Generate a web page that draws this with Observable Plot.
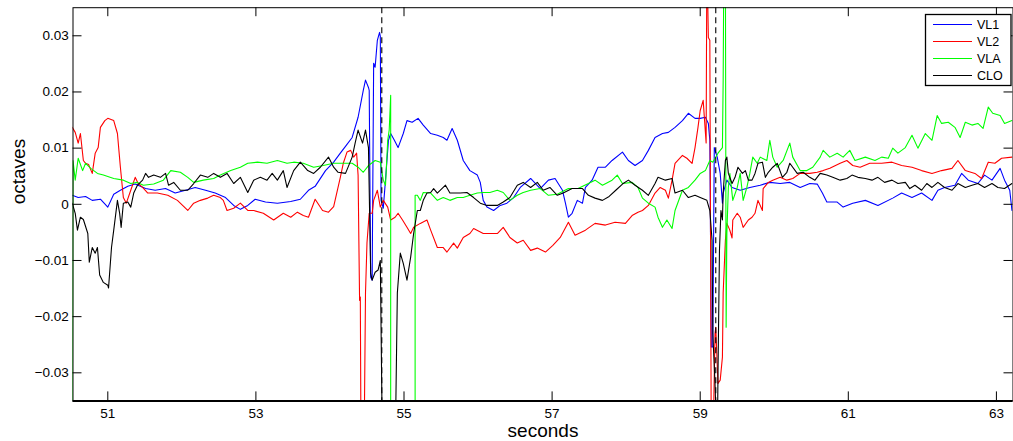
<!DOCTYPE html>
<html><head><meta charset="utf-8">
<script src="https://cdn.jsdelivr.net/npm/d3@7"></script>
<script src="https://cdn.jsdelivr.net/npm/@observablehq/plot@0.6"></script>
<style>
html,body{margin:0;padding:0;background:#fff;}
#chart{width:1013px;height:441px;}
</style></head><body><div id="chart"></div>
<script>
const seriesNames = ["VL1", "VL2", "VLA", "CLO"];
const seriesColors = ["#0000ff", "#ff0000", "#00ff00", "#000000"];
const xTicks = [51, 53, 55, 57, 59, 61, 63];
const yTicks = [-0.03, -0.02, -0.01, 0, 0.01, 0.02, 0.03];
const xDomain = [50.53, 63.224];
const yDomain = [-0.035, 0.035];
const eventTimes = [54.70, 59.21];

// [seconds, octaves]
const vl1 = [[50.52,0.0016],[50.60,0.0012],[50.70,0.0014],[50.79,0.0007],[50.90,0.0009],[51.00,-0.0005],[51.08,0.0018],[51.17,0.0025],[51.27,0.0032],[51.37,0.0036],[51.51,0.0028],[51.64,0.0025],[51.78,0.0028],[51.91,0.0020],[52.05,0.0025],[52.18,0.0030],[52.32,0.0025],[52.45,0.0020],[52.59,0.0012],[52.70,-0.0002],[52.79,-0.0009],[52.89,-0.0002],[52.99,0.0009],[53.13,0.0004],[53.29,0.0002],[53.47,0.0005],[53.60,0.0009],[53.71,0.0025],[53.80,0.0032],[53.94,0.0060],[54.05,0.0075],[54.14,0.0091],[54.22,0.0105],[54.30,0.0119],[54.38,0.0155],[54.45,0.0203],[54.48,0.0221],[54.52,0.0208],[54.53,0.0203],[54.55,-0.0130],[54.57,-0.0135],[54.59,0.0251],[54.61,0.0244],[54.64,0.0292],[54.67,0.0306],[54.68,0.0299],[54.69,0.0007],[54.72,-0.0007],[54.75,0.0043],[54.79,0.0114],[54.82,0.0126],[54.87,0.0114],[54.92,0.0101],[54.99,0.0126],[55.04,0.0149],[55.11,0.0146],[55.19,0.0153],[55.26,0.0141],[55.36,0.0126],[55.45,0.0123],[55.53,0.0119],[55.58,0.0114],[55.65,0.0135],[55.72,0.0114],[55.80,0.0078],[55.89,0.0060],[55.99,0.0052],[56.03,0.0039],[56.07,0.0007],[56.12,-0.0005],[56.21,-0.0011],[56.30,-0.0002],[56.39,0.0002],[56.48,0.0012],[56.57,0.0030],[56.71,0.0046],[56.84,0.0028],[56.95,0.0043],[57.04,0.0046],[57.14,0.0025],[57.18,0.0002],[57.22,-0.0023],[57.27,-0.0016],[57.34,0.0007],[57.41,0.0002],[57.45,0.0030],[57.54,0.0043],[57.62,0.0066],[57.72,0.0066],[57.81,0.0078],[57.95,0.0093],[58.03,0.0078],[58.12,0.0069],[58.22,0.0078],[58.30,0.0096],[58.39,0.0119],[58.49,0.0126],[58.57,0.0128],[58.66,0.0137],[58.76,0.0149],[58.84,0.0162],[58.93,0.0153],[59.00,0.0153],[59.07,0.0155],[59.11,0.0144],[59.13,0.0114],[59.15,-0.0254],[59.17,-0.0254],[59.19,0.0101],[59.23,0.0084],[59.27,0.0055],[59.30,0.0002],[59.31,0.0020],[59.36,0.0043],[59.43,0.0030],[59.54,0.0025],[59.67,0.0030],[59.81,0.0034],[59.94,0.0039],[60.08,0.0037],[60.21,0.0039],[60.35,0.0030],[60.48,0.0037],[60.58,0.0036],[60.65,0.0020],[60.71,0.0004],[60.85,0.0004],[60.93,-0.0005],[61.06,0.0002],[61.23,0.0007],[61.40,-0.0002],[61.60,0.0011],[61.72,0.0020],[61.86,0.0012],[61.99,0.0020],[62.13,0.0007],[62.21,0.0025],[62.30,0.0030],[62.44,0.0034],[62.53,0.0055],[62.62,0.0043],[62.75,0.0037],[62.84,0.0052],[62.94,0.0043],[63.05,0.0064],[63.11,0.0043],[63.18,0.0025],[63.21,-0.0011]];

const vl2 = [[50.52,0.0137],[50.56,0.0128],[50.60,0.0109],[50.63,0.0126],[50.67,0.0078],[50.70,0.0073],[50.74,0.0071],[50.79,0.0055],[50.83,0.0091],[50.87,0.0101],[50.90,0.0137],[50.96,0.0149],[51.00,0.0153],[51.08,0.0149],[51.13,0.0126],[51.17,0.0066],[51.21,0.0012],[51.25,0.0002],[51.31,0.0025],[51.37,0.0048],[51.41,0.0037],[51.47,0.0030],[51.54,0.0020],[51.67,0.0020],[51.81,0.0016],[51.94,0.0007],[52.08,-0.0011],[52.16,0.0002],[52.25,0.0007],[52.35,0.0011],[52.43,0.0016],[52.52,0.0012],[52.56,0.0007],[52.61,-0.0011],[52.70,-0.0007],[52.79,0.0002],[52.89,-0.0011],[52.97,-0.0011],[53.10,-0.0016],[53.24,-0.0028],[53.37,-0.0016],[53.47,-0.0023],[53.56,-0.0014],[53.64,-0.0020],[53.71,-0.0023],[53.80,0.0009],[53.90,-0.0011],[53.98,-0.0014],[54.05,-0.0004],[54.14,0.0048],[54.18,0.0073],[54.23,0.0093],[54.28,0.0096],[54.32,0.0084],[54.36,0.0091],[54.38,0.0052],[54.40,-0.0171],[54.41,-0.0165],[54.42,-0.045],[54.46,-0.045],[54.48,-0.0158],[54.50,-0.0069],[54.53,-0.0016],[54.57,-0.0016],[54.59,0.0007],[54.64,0.0025],[54.68,-0.0005],[54.72,0.0007],[54.78,-0.0005],[54.82,-0.0028],[54.88,-0.0023],[54.92,-0.0016],[54.98,-0.0028],[55.04,-0.0041],[55.09,-0.0052],[55.13,-0.0041],[55.22,-0.0034],[55.31,-0.0028],[55.36,-0.0046],[55.45,-0.0077],[55.53,-0.0077],[55.58,-0.0085],[55.67,-0.0069],[55.72,-0.0078],[55.80,-0.0059],[55.89,-0.0052],[55.94,-0.0043],[56.07,-0.0052],[56.16,-0.0052],[56.26,-0.0052],[56.34,-0.0041],[56.43,-0.0059],[56.53,-0.0069],[56.61,-0.0064],[56.71,-0.0082],[56.80,-0.0078],[56.91,-0.0085],[57.01,-0.0073],[57.11,-0.0059],[57.22,-0.0032],[57.31,-0.0055],[57.45,-0.0046],[57.58,-0.0034],[57.72,-0.0037],[57.85,-0.0032],[57.99,-0.0034],[58.08,-0.0020],[58.16,-0.0014],[58.22,-0.0011],[58.30,-0.0002],[58.39,0.0020],[58.46,0.0030],[58.53,0.0025],[58.57,0.0011],[58.62,0.0043],[58.66,0.0073],[58.76,0.0087],[58.82,0.0082],[58.89,0.0073],[58.93,0.0101],[58.97,0.0137],[59.00,0.0167],[59.04,0.0185],[59.08,0.0109],[59.09,0.045],[59.11,0.0297],[59.13,0.0292],[59.15,-0.045],[59.17,-0.045],[59.20,-0.0230],[59.21,-0.0219],[59.24,-0.0319],[59.27,-0.0313],[59.30,-0.0272],[59.31,-0.0158],[59.34,-0.0064],[59.36,-0.0034],[59.40,-0.0046],[59.43,-0.0060],[59.44,-0.0028],[59.50,-0.0016],[59.54,-0.0023],[59.58,-0.0041],[59.65,-0.0028],[59.70,-0.0023],[59.74,-0.0016],[59.78,0.0007],[59.84,-0.0011],[59.85,0.0028],[59.92,0.0039],[59.98,0.0043],[60.08,0.0048],[60.17,0.0043],[60.25,0.0046],[60.35,0.0055],[60.48,0.0055],[60.58,0.0057],[60.66,0.0060],[60.75,0.0064],[60.89,0.0073],[60.98,0.0078],[61.06,0.0069],[61.16,0.0066],[61.29,0.0073],[61.45,0.0073],[61.59,0.0075],[61.72,0.0069],[61.86,0.0066],[61.99,0.0060],[62.13,0.0055],[62.26,0.0060],[62.40,0.0064],[62.48,0.0078],[62.58,0.0060],[62.71,0.0055],[62.80,0.0046],[62.89,0.0075],[62.98,0.0073],[63.07,0.0082],[63.21,0.0084]];

const vla = [[50.52,-0.045],[50.53,0.0078],[50.56,0.0043],[50.60,0.0082],[50.66,0.0060],[50.70,0.0073],[50.77,0.0064],[50.86,0.0055],[50.94,0.0052],[51.08,0.0046],[51.21,0.0043],[51.31,0.0037],[51.40,0.0039],[51.48,0.0034],[51.62,0.0036],[51.75,0.0043],[51.85,0.0060],[51.98,0.0057],[52.08,0.0048],[52.16,0.0039],[52.29,0.0043],[52.43,0.0046],[52.52,0.0052],[52.66,0.0060],[52.79,0.0066],[52.89,0.0073],[53.02,0.0075],[53.15,0.0073],[53.29,0.0078],[53.42,0.0073],[53.51,0.0075],[53.64,0.0073],[53.78,0.0066],[53.91,0.0069],[54.05,0.0073],[54.17,0.0073],[54.30,0.0073],[54.38,0.0066],[54.45,0.0057],[54.52,0.0069],[54.61,0.0078],[54.68,0.0075],[54.72,0.0043],[54.75,0.0034],[54.78,0.0114],[54.80,0.0132],[54.82,0.0194],[54.82,-0.045],[55.15,-0.045],[55.15,0.0016],[55.18,0.0016],[55.22,0.0007],[55.26,0.0021],[55.36,0.0020],[55.45,0.0007],[55.53,0.0012],[55.62,0.0007],[55.72,0.0012],[55.80,0.0012],[55.89,0.0016],[55.99,0.0020],[56.07,0.0021],[56.16,0.0021],[56.26,0.0025],[56.34,0.0021],[56.43,0.0007],[56.53,0.0016],[56.61,0.0021],[56.71,0.0025],[56.84,0.0028],[56.95,0.0016],[57.07,0.0018],[57.22,0.0028],[57.35,0.0028],[57.49,0.0037],[57.58,0.0043],[57.68,0.0034],[57.81,0.0043],[57.88,0.0052],[57.95,0.0037],[58.08,0.0039],[58.16,0.0030],[58.22,0.0011],[58.30,0.0002],[58.39,-0.0005],[58.43,-0.0023],[58.49,-0.0041],[58.55,-0.0028],[58.62,-0.0043],[58.66,-0.0011],[58.76,0.0025],[58.84,0.0030],[58.93,0.0043],[59.00,0.0055],[59.07,0.0060],[59.13,0.0078],[59.17,0.0075],[59.24,0.0091],[59.30,0.0101],[59.31,0.0221],[59.32,0.045],[59.34,0.045],[59.35,-0.0219],[59.36,-0.0052],[59.38,0.0030],[59.40,0.0055],[59.44,0.0007],[59.50,0.0030],[59.54,0.0055],[59.58,0.0007],[59.63,0.0030],[59.67,0.0055],[59.71,0.0084],[59.77,0.0073],[59.81,0.0084],[59.90,0.0078],[59.94,0.0114],[59.98,0.0084],[60.04,0.0066],[60.12,0.0078],[60.21,0.0109],[60.25,0.0084],[60.35,0.0060],[60.44,0.0060],[60.52,0.0066],[60.62,0.0084],[60.66,0.0096],[60.75,0.0084],[60.85,0.0091],[60.93,0.0084],[61.02,0.0096],[61.09,0.0078],[61.23,0.0084],[61.36,0.0078],[61.45,0.0084],[61.54,0.0082],[61.60,0.0100],[61.67,0.0091],[61.77,0.0101],[61.86,0.0123],[61.94,0.0100],[62.04,0.0126],[62.13,0.0114],[62.20,0.0158],[62.26,0.0144],[62.35,0.0146],[62.44,0.0137],[62.51,0.0119],[62.58,0.0146],[62.67,0.0141],[62.75,0.0144],[62.82,0.0135],[62.89,0.0173],[62.95,0.0162],[63.05,0.0158],[63.11,0.0144],[63.21,0.0149]];

const clo = [[50.52,0.0002],[50.56,-0.0016],[50.59,-0.0046],[50.63,-0.0023],[50.67,-0.0027],[50.73,-0.0052],[50.75,-0.0103],[50.79,-0.0077],[50.83,-0.0087],[50.86,-0.0077],[50.89,-0.0126],[50.94,-0.0139],[51.00,-0.0144],[51.01,-0.0149],[51.05,-0.0077],[51.08,-0.0046],[51.13,0.0007],[51.16,-0.0016],[51.18,-0.0041],[51.21,0.0002],[51.27,0.0004],[51.31,-0.0005],[51.35,0.0020],[51.40,0.0034],[51.47,0.0043],[51.51,0.0055],[51.55,0.0048],[51.62,0.0052],[51.71,0.0048],[51.78,0.0055],[51.82,0.0034],[51.89,0.0039],[51.98,0.0025],[52.08,0.0025],[52.16,0.0037],[52.25,0.0052],[52.35,0.0048],[52.43,0.0055],[52.52,0.0048],[52.61,0.0055],[52.70,0.0037],[52.79,0.0048],[52.89,0.0021],[52.97,0.0043],[53.06,0.0048],[53.15,0.0043],[53.22,0.0055],[53.29,0.0043],[53.37,0.0060],[53.42,0.0030],[53.51,0.0060],[53.60,0.0075],[53.70,0.0060],[53.78,0.0055],[53.87,0.0066],[53.98,0.0084],[54.05,0.0066],[54.11,0.0057],[54.21,0.0055],[54.30,0.0084],[54.34,0.0109],[54.38,0.0132],[54.44,0.0109],[54.48,0.0132],[54.52,0.0101],[54.55,-0.0123],[54.57,-0.0135],[54.61,-0.0121],[54.65,-0.0117],[54.68,-0.0100],[54.71,-0.045],[54.88,-0.045],[54.91,-0.0158],[54.95,-0.0087],[54.99,-0.0105],[55.04,-0.0135],[55.09,-0.0094],[55.13,-0.0052],[55.18,-0.0011],[55.22,-0.0011],[55.26,0.0007],[55.31,0.0020],[55.36,0.0021],[55.40,0.0028],[55.45,0.0020],[55.56,0.0034],[55.62,0.0020],[55.67,0.0020],[55.76,0.0020],[55.85,0.0021],[55.94,0.0012],[56.03,0.0002],[56.12,-0.0002],[56.26,-0.0002],[56.34,0.0004],[56.43,0.0012],[56.53,0.0034],[56.61,0.0039],[56.71,0.0030],[56.80,0.0039],[56.88,0.0025],[56.97,0.0030],[57.07,0.0016],[57.15,0.0020],[57.27,0.0028],[57.41,0.0028],[57.49,0.0016],[57.58,0.0011],[57.68,0.0007],[57.77,0.0014],[57.86,0.0025],[57.95,0.0036],[58.03,0.0043],[58.12,0.0034],[58.22,0.0025],[58.30,0.0016],[58.39,0.0037],[58.43,0.0048],[58.53,0.0043],[58.62,0.0046],[58.66,0.0020],[58.76,0.0025],[58.84,0.0012],[58.93,0.0016],[59.00,0.0012],[59.09,0.0007],[59.13,-0.0011],[59.16,-0.0064],[59.17,-0.0230],[59.20,-0.0319],[59.23,-0.045],[59.24,-0.0301],[59.26,-0.0082],[59.28,-0.0011],[59.30,-0.0028],[59.31,0.0020],[59.34,0.0078],[59.36,0.0084],[59.38,0.0055],[59.43,0.0037],[59.47,0.0048],[59.51,0.0066],[59.57,0.0055],[59.61,0.0060],[59.65,0.0043],[59.70,0.0043],[59.74,0.0055],[59.78,0.0073],[59.84,0.0075],[59.88,0.0048],[59.92,0.0057],[59.98,0.0066],[60.04,0.0073],[60.11,0.0048],[60.17,0.0057],[60.21,0.0073],[60.31,0.0055],[60.39,0.0057],[60.48,0.0048],[60.55,0.0043],[60.62,0.0055],[60.71,0.0052],[60.79,0.0048],[60.89,0.0043],[60.98,0.0046],[61.05,0.0052],[61.13,0.0048],[61.23,0.0046],[61.32,0.0043],[61.40,0.0048],[61.49,0.0039],[61.59,0.0043],[61.67,0.0037],[61.77,0.0039],[61.83,0.0028],[61.90,0.0034],[61.99,0.0025],[62.06,0.0037],[62.13,0.0030],[62.21,0.0039],[62.30,0.0030],[62.40,0.0025],[62.48,0.0037],[62.58,0.0030],[62.67,0.0034],[62.75,0.0037],[62.84,0.0030],[62.94,0.0037],[63.02,0.0030],[63.11,0.0028],[63.21,0.0037]];

const allSeries = [vl1, vl2, vla, clo];
const rows = [];
allSeries.forEach((s, i) => s.forEach(([t, v]) => rows.push({series: seriesNames[i], t, v})));

const fmtY = d => d === 0 ? "0" : d3.format(".2f")(d);

const W = 1013, H = 441, mL = 72.5, mR = 0.5, mT = 7.2, mB = 40.6;
const tickLen = 9;
const innerW = W - mL - mR, innerH = H - mT - mB;

const plot = Plot.plot({
  width: W, height: H,
  marginLeft: mL, marginRight: mR, marginTop: mT, marginBottom: mB,
  style: {fontFamily: "'Liberation Sans', Arial, Helvetica, sans-serif", fontSize: "13.5px", background: "#fff", color: "#000"},
  x: {domain: xDomain},
  y: {domain: yDomain},
  color: {domain: seriesNames, range: seriesColors},
  marks: [
    Plot.line(rows, {x: "t", y: "v", z: "series", stroke: "series", strokeWidth: 1.1, clip: true}),
    Plot.ruleX(eventTimes, {stroke: "#000", strokeWidth: 1.1, strokeDasharray: "6,4"}),
    // inward ticks on all four sides
    Plot.ruleX(xTicks, {stroke: "#000", insetTop: innerH - tickLen}),
    Plot.ruleX(xTicks, {stroke: "#000", insetBottom: innerH - tickLen}),
    Plot.ruleY(yTicks, {stroke: "#000", insetRight: innerW - tickLen}),
    Plot.ruleY(yTicks, {stroke: "#000", insetLeft: innerW - tickLen}),
    Plot.frame({stroke: "#000", strokeWidth: 1}),
    Plot.ruleY([yDomain[0]], {stroke: "#000", strokeWidth: 2}),
    Plot.axisX(xTicks, {anchor: "bottom", tickSize: 0, tickPadding: 7.4, label: null}),
    Plot.axisY(yTicks, {anchor: "left", tickSize: 0, tickPadding: 4.2, tickFormat: fmtY, label: null}),
    Plot.text(["seconds"], {frameAnchor: "bottom", dy: 30, lineAnchor: "middle", fontSize: 19}),
    Plot.text(["octaves"], {frameAnchor: "left", dx: -54, rotate: -90, fontSize: 19})
  ]
});

document.getElementById("chart").appendChild(plot);

// legend box (top-right, drawn over the plot)
const svg = d3.select(plot);
const lg = svg.append("g")
  .attr("font-family", "'Liberation Sans', Arial, Helvetica, sans-serif")
  .attr("font-size", 12.5)
  .attr("text-anchor", "start");
lg.append("rect").attr("x", 925.5).attr("y", 14.5).attr("width", 85.5).attr("height", 71)
  .attr("fill", "#fff").attr("stroke", "#000").attr("stroke-width", 1.3);
seriesNames.forEach((name, i) => {
  const y = 24.5 + i * 17;
  lg.append("line").attr("x1", 933).attr("x2", 972).attr("y1", y).attr("y2", y)
    .attr("stroke", seriesColors[i]).attr("stroke-width", 1);
  lg.append("text").attr("x", 977).attr("y", y).attr("dy", "0.35em")
    .attr("text-anchor", "start").attr("fill", "#000").text(name);
});
</script>
</body></html>
